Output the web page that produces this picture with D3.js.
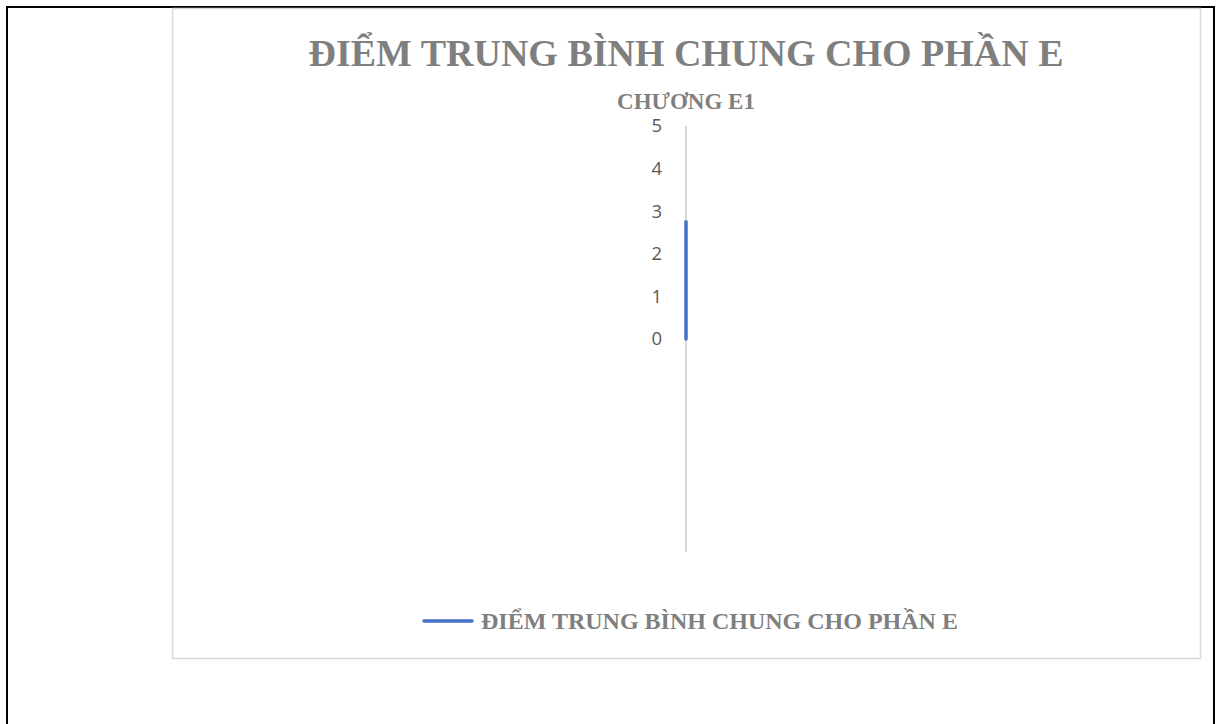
<!DOCTYPE html>
<html>
<head>
<meta charset="utf-8">
<script src="https://cdn.jsdelivr.net/npm/d3@7"></script>
<style>
  html, body { margin: 0; padding: 0; background: #fff; }
  svg { display: block; }
</style>
</head>
<body>
<script>
// Radar chart data: one category, one series
const categories = ["CHƯƠNG E1"];
const seriesName = "ĐIỂM TRUNG BÌNH CHUNG CHO PHẦN E";
const seriesValues = [2.75];
const tickValues = [0, 1, 2, 3, 4, 5];
const chartTitle = "ĐIỂM TRUNG BÌNH CHUNG CHO PHẦN E";

const W = 1216, H = 724;
const svg = d3.select("body").append("svg").attr("width", W).attr("height", H);

// page frame
svg.append("rect")
  .attr("x", 7).attr("y", 7).attr("width", 1207).attr("height", 740)
  .attr("fill", "none").attr("stroke", "#000").attr("stroke-width", 2);

// chart area
svg.append("rect")
  .attr("x", 172.5).attr("y", 8.5).attr("width", 1028).attr("height", 650)
  .attr("fill", "#fff").attr("stroke", "#d9d9d9").attr("stroke-width", 1.5);

const serif = "'Liberation Serif', 'Times New Roman', serif";
const gray = "#7f7f7f";

svg.append("text")
  .attr("x", 686).attr("y", 66)
  .attr("text-anchor", "middle")
  .attr("font-family", serif).attr("font-weight", "bold")
  .attr("font-size", 38).attr("fill", gray)
  .text(chartTitle);

// radar geometry
const cx = 686, cy = 339;
const r = d3.scaleLinear().domain([0, 5]).range([0, 213]);
const angle = d3.scaleBand().domain(categories).range([0, 2 * Math.PI]).align(0).paddingInner(0).paddingOuter(0);
const pt = (cat, v) => {
  const a = angle(cat) - Math.PI / 2;
  return [cx + r(v) * Math.cos(a), cy + r(v) * Math.sin(a)];
};

// spoke / gridline
const rMax = r(d3.max(tickValues));
svg.append("line")
  .attr("x1", cx).attr("y1", cy - rMax)
  .attr("x2", cx).attr("y2", cy + rMax)
  .attr("stroke", "#d9d9d9").attr("stroke-width", 2);

// category label
categories.forEach(c => {
  const [x, y] = pt(c, 5);
  svg.append("text")
    .attr("x", x).attr("y", y - 17)
    .attr("text-anchor", "middle")
    .attr("font-family", serif).attr("font-weight", "bold")
    .attr("font-size", 23).attr("fill", gray)
    .text(c);
});

// value ticks
svg.append("g").selectAll("text").data(tickValues).join("text")
  .attr("x", cx - 24).attr("y", d => cy - r(d))
  .attr("dy", "0.35em")
  .attr("text-anchor", "end")
  .attr("font-family", "'Open Sans', sans-serif")
  .attr("font-size", 18.5).attr("fill", "#595959")
  .text(d => d);

// series line (center to value along the single spoke)
const lineGen = d3.line();
const pts = [[cx, cy]].concat(categories.map((c, i) => pt(c, seriesValues[i])));
svg.append("path")
  .attr("d", lineGen(pts))
  .attr("fill", "none").attr("stroke", "#4472c4")
  .attr("stroke-width", 3.5).attr("stroke-linecap", "round");

// legend
svg.append("line")
  .attr("x1", 424).attr("x2", 472).attr("y1", 621).attr("y2", 621)
  .attr("stroke", "#4472c4").attr("stroke-width", 3.5).attr("stroke-linecap", "round");
svg.append("text")
  .attr("x", 481).attr("y", 629)
  .attr("font-family", serif).attr("font-weight", "bold")
  .attr("font-size", 24).attr("fill", gray)
  .text(seriesName);
</script>
</body>
</html>
